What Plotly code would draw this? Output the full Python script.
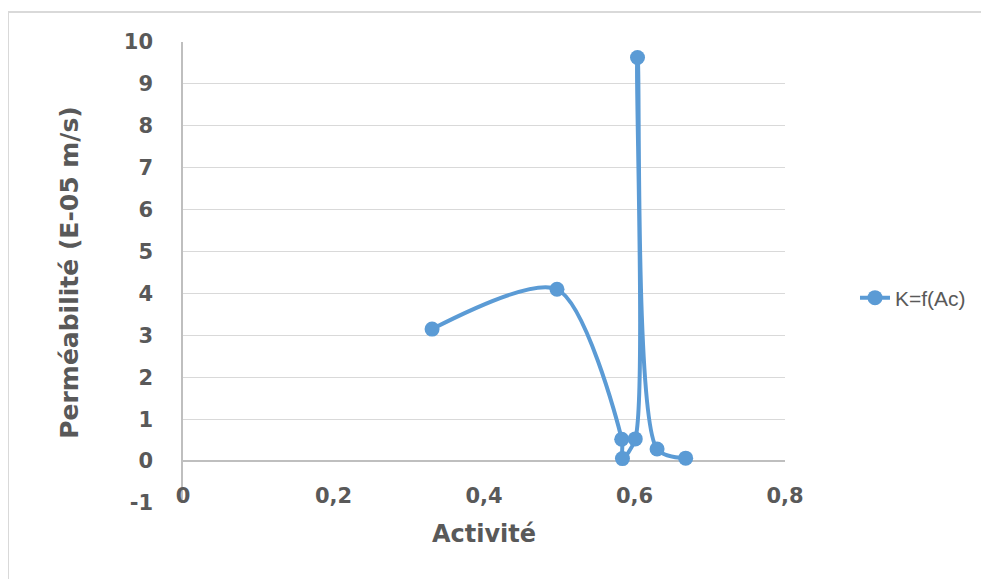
import plotly.graph_objects as go

activite = [0.331, 0.497, 0.583, 0.584, 0.601, 0.604, 0.630, 0.668]
permeabilite = [3.15, 4.10, 0.52, 0.06, 0.53, 9.63, 0.29, 0.07]
series_name = "K=f(Ac)"
x_ticks = [0, 0.2, 0.4, 0.6, 0.8]
x_ticktext = ["0", "0,2", "0,4", "0,6", "0,8"]
y_ticks = list(range(-1, 11))
y_ticktext = [str(v) for v in y_ticks]

# page offset of the plotly div (body margin)
OFF = 8
W, H = 989 - OFF, 579 - OFF
L, T = 183 - OFF, 42 - OFF
pw, ph = 602, 461
R = W - L - pw
B = H - T - ph

def px_x(p):
    return (p - OFF - L) / pw

def px_y(p):
    return (T + ph - (p - OFF)) / ph

BLUE = "#5B9BD5"
GREY = "#595959"
FONT = "DejaVu Sans"

fig = go.Figure()
fig.add_trace(go.Scatter(
    x=activite, y=permeabilite, mode="lines+markers", name=series_name,
    line=dict(color=BLUE, width=4, shape="spline", smoothing=0.8),
    marker=dict(color=BLUE, size=15),
))

fig.update_layout(
    width=W, height=H,
    margin=dict(l=L, r=R, t=T, b=B),
    paper_bgcolor="white", plot_bgcolor="white",
    showlegend=True,
    legend=dict(x=px_x(855), y=px_y(298), xanchor="left", yanchor="middle",
                font=dict(family="Liberation Sans", size=21, color=GREY),
                bgcolor="rgba(0,0,0,0)"),
    xaxis=dict(range=[0, 0.8], tickvals=x_ticks, ticktext=x_ticktext,
               showgrid=False, zeroline=False, showline=False, ticks="",
               anchor="free", position=px_y(481),
               tickfont=dict(family=FONT, size=21, color=GREY, weight="bold"),
               title=dict(text="Activité", standoff=18,
                          font=dict(family=FONT, size=24, color=GREY, weight="bold"))),
    yaxis=dict(range=[-1, 10], tickvals=y_ticks, ticktext=y_ticktext,
               showgrid=True, gridcolor="#D9D9D9", gridwidth=1,
               zeroline=True, zerolinecolor="#BFBFBF", zerolinewidth=1.5,
               showline=True, linecolor="#BFBFBF", linewidth=1.5,
               ticks="", ticklabelstandoff=24,
               tickfont=dict(family=FONT, size=21, color=GREY, weight="bold"),
               title=dict(text="Perméabilité (E-05 m/s)", standoff=38,
                          font=dict(family=FONT, size=25, color=GREY, weight="bold"))),
    shapes=[dict(type="rect", xref="paper", yref="paper",
                 x0=px_x(8), x1=px_x(1010), y0=px_y(600), y1=px_y(12),
                 line=dict(color="#D9D9D9", width=2), fillcolor="rgba(0,0,0,0)",
                 layer="below")],
)

fig.write_html("out.html")
